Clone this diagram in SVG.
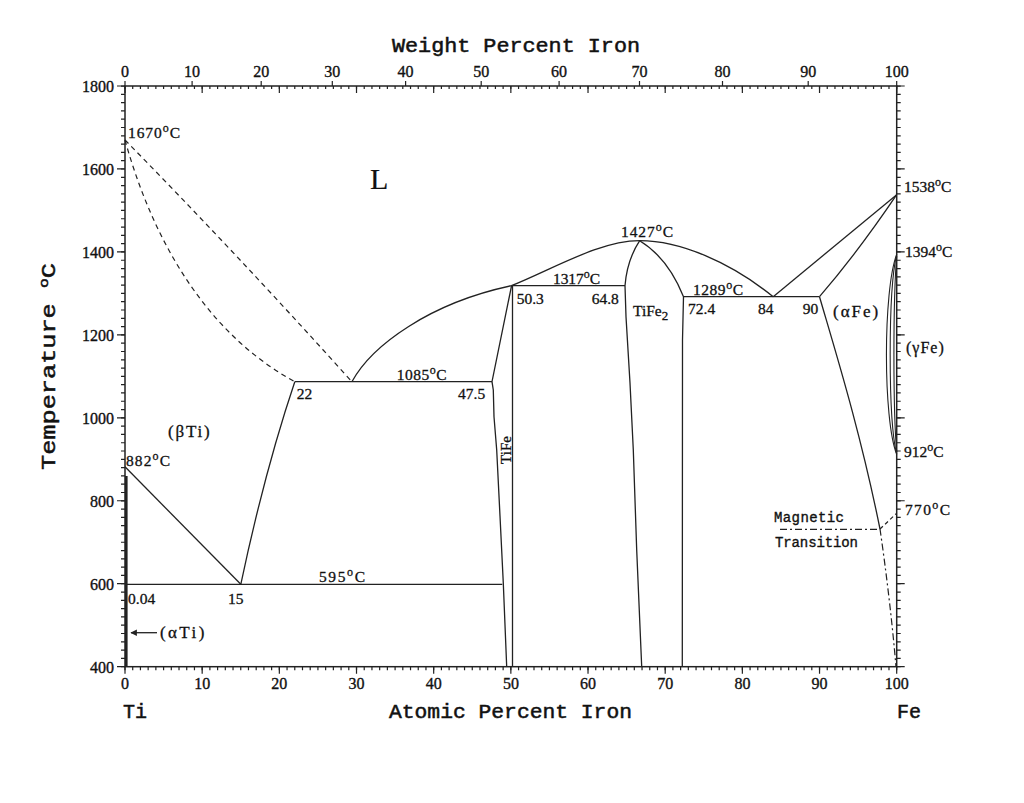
<svg xmlns="http://www.w3.org/2000/svg" width="1024" height="803" viewBox="0 0 1024 803">
<style>
.ln{fill:none;stroke:#222;stroke-width:1.3}
.ds{fill:none;stroke:#222;stroke-width:1.2;stroke-dasharray:5 4}
.dd{fill:none;stroke:#222;stroke-width:1.2;stroke-dasharray:7 3 2 3}
.tk{fill:none;stroke:#222;stroke-width:1.2}
.ax{font-family:"Liberation Serif",serif;font-size:16px;fill:#111;stroke:#111;stroke-width:0.35}
.lb{font-family:"Liberation Serif",serif;font-size:15.5px;fill:#111;stroke:#111;stroke-width:0.3}
.ti{font-family:"Liberation Mono",monospace;font-size:20px;fill:#111;stroke:#111;stroke-width:0.5}
.mg{font-family:"Liberation Mono",monospace;font-size:14px;fill:#111;stroke:#111;stroke-width:0.35}
</style>
<defs>
<marker id="ah" viewBox="0 0 10 10" refX="9" refY="5" markerWidth="9" markerHeight="5" orient="auto"><path d="M0,0 L10,5 L0,10 z" fill="#222"/></marker>
</defs>
<rect width="1024" height="803" fill="#fff"/>
<g id="frame">
<rect x="125" y="86" width="771.7" height="580.7" fill="none" stroke="#222" stroke-width="1.5"/>
<line x1="123" y1="667.3" x2="123" y2="85" stroke="#222" stroke-width="4" stroke-dasharray="1.2 7.0952"/>
<line x1="898.7" y1="667.3" x2="898.7" y2="85" stroke="#222" stroke-width="4" stroke-dasharray="1.2 7.0952"/>
<line x1="124.4" y1="668.5" x2="898" y2="668.5" stroke="#222" stroke-width="3.6" stroke-dasharray="1.2 6.517"/>
<line x1="124.4" y1="87.5" x2="898" y2="87.5" stroke="#222" stroke-width="3" stroke-dasharray="1.2 6.517"/>
<path class="tk" d="M117,86h8M117,168.95h8M117,251.9h8M117,334.86h8M117,417.8h8M117,500.76h8M117,583.7h8M117,666.7h8"/>
<path class="tk" d="M896.7,86h8M896.7,168.95h8M896.7,251.9h8M896.7,334.86h8M896.7,417.8h8M896.7,500.76h8M896.7,583.7h8M896.7,666.7h8"/>
<path class="tk" d="M125,666.7v7M202.17,666.7v7M279.34,666.7v7M356.51,666.7v7M433.68,666.7v7M510.85,666.7v7M588.02,666.7v7M665.19,666.7v7M742.36,666.7v7M819.53,666.7v7M896.7,666.7v7"/>
<path class="tk" d="M125,86v7M202.17,86v7M279.34,86v7M356.51,86v7M433.68,86v7M510.85,86v7M588.02,86v7M665.19,86v7M742.36,86v7M819.53,86v7M896.7,86v7"/>
<path class="tk" d="M125,86v-5M192.1,86v-5M261.2,86v-5M332.3,86v-5M405.6,86v-5M481.2,86v-5M559.1,86v-5M639.5,86v-5M722.5,86v-5M808.2,86v-5M896.7,86v-5"/>
</g>
<g id="axis-labels">
<g class="ax" text-anchor="end">
<text x="114" y="91.5">1800</text><text x="114" y="174.5">1600</text><text x="114" y="257.5">1400</text><text x="114" y="340.5">1200</text><text x="114" y="423.5">1000</text><text x="114" y="506.5">800</text><text x="114" y="589.5">600</text><text x="114" y="672.5">400</text>
</g>
<g class="ax" text-anchor="middle">
<text x="125" y="689">0</text><text x="202.2" y="689">10</text><text x="279.3" y="689">20</text><text x="356.5" y="689">30</text><text x="433.7" y="689">40</text><text x="510.9" y="689">50</text><text x="588" y="689">60</text><text x="665.2" y="689">70</text><text x="742.4" y="689">80</text><text x="819.5" y="689">90</text><text x="896.7" y="689">100</text>
<text x="125" y="77">0</text><text x="192.1" y="77">10</text><text x="261.2" y="77">20</text><text x="332.3" y="77">30</text><text x="405.6" y="77">40</text><text x="481.2" y="77">50</text><text x="559.1" y="77">60</text><text x="639.5" y="77">70</text><text x="722.5" y="77">80</text><text x="808.2" y="77">90</text><text x="896.7" y="77">100</text>
</g>
<text class="ti" x="392" y="52" textLength="248" lengthAdjust="spacingAndGlyphs">Weight Percent Iron</text>
<text class="ti" x="389" y="718" textLength="243" lengthAdjust="spacingAndGlyphs">Atomic Percent Iron</text>
<text class="ti" x="123" y="718">Ti</text>
<text class="ti" x="897" y="718">Fe</text>
<text class="ti" transform="translate(55,470) rotate(-90)" textLength="207" lengthAdjust="spacingAndGlyphs">Temperature <tspan dy="-7" font-size="13">o</tspan><tspan dy="7">C</tspan></text>
</g>
<g id="phase-boundaries">
<path class="ds" d="M125,140 Q235,252 351.9,381.7"/>
<path class="ds" d="M125,140 C150,230 200,330 294.8,381.7"/>
<path class="ln" d="M351.9,381.7 C372,345 430,303 511.5,285.7 C555,268 600,240.7 639.7,240.7 C680,240.7 730,262 773.2,296.7"/>
<path class="ln" d="M773.2,296.7 L896.7,194.7"/>
<path class="ln" d="M819.5,296.7 Q858,252 896.7,194.7"/>
<path class="ln" d="M294.8,381.7 H492"/>
<path class="ln" d="M511.5,286 L492,381.7 L493.3,390 L494,416.7 L496.7,450 L500,516 L503.3,583.3 L506.7,666.7"/>
<path class="ln" d="M512.5,286 V666.7"/>
<path class="ln" d="M511.5,285.7 H625"/>
<path class="ln" d="M639.7,240.7 Q627,260 625,285.7 L626,316.7 L630,383 L633.3,450 L636.7,550 L641.7,666.7"/>
<path class="ln" d="M639.7,240.7 Q668,258 683.5,296.7 L682.5,340 L682.3,666.7"/>
<path class="ln" d="M683.5,296.7 H819.5"/>
<path class="ln" d="M819.5,296.7 C835,350 860,430 880,529"/>
<path class="dd" d="M880,529 C886,570 892,620 896,666.7"/>
<path class="dd" d="M780,529.3 H880"/>
<path class="ds" d="M880,529 L896.7,513.2" style="stroke-dasharray:4 3"/>
<path class="ln" d="M125,584.3 H502.3"/>
<path class="ln" d="M125,466.8 L240.8,584.3"/>
<path class="ln" d="M294.8,381.7 Q265,470 240.8,584.3"/>
<path class="ln" d="M126.3,476 V666.7" style="stroke-width:2.6"/>
<path class="ln" d="M896.7,254.4 C883,290 883,420 896.7,454.3" style="stroke-width:1.1"/>
<path class="ln" d="M896.7,254.4 C888,290 888,420 896.7,454.3" style="stroke-width:1.1"/>
<path class="ln" d="M896.7,256 C893,300 893,410 896.7,452" style="stroke-width:1.1"/>
<path class="ln" d="M157,632.7 H131" marker-end="url(#ah)"/>
</g>
<g id="labels" class="lb">
<text x="128" y="138" textLength="52">1670<tspan dy="-6" font-size="12">o</tspan><tspan dy="6">C</tspan></text>
<text x="126" y="466" textLength="44">882<tspan dy="-6" font-size="12">o</tspan><tspan dy="6">C</tspan></text>
<text x="904" y="191.5">1538<tspan dy="-6" font-size="12">o</tspan><tspan dy="6">C</tspan></text>
<text x="905" y="257">1394<tspan dy="-6" font-size="12">o</tspan><tspan dy="6">C</tspan></text>
<text x="904" y="456.5">912<tspan dy="-6" font-size="12">o</tspan><tspan dy="6">C</tspan></text>
<text x="905" y="514.5" textLength="45">770<tspan dy="-6" font-size="12">o</tspan><tspan dy="6">C</tspan></text>
<text x="396.7" y="379.5" textLength="50">1085<tspan dy="-6" font-size="12">o</tspan><tspan dy="6">C</tspan></text>
<text x="553" y="283.5" textLength="47">1317<tspan dy="-6" font-size="12">o</tspan><tspan dy="6">C</tspan></text>
<text x="621" y="237" textLength="52">1427<tspan dy="-6" font-size="12">o</tspan><tspan dy="6">C</tspan></text>
<text x="693" y="294.5" textLength="50">1289<tspan dy="-6" font-size="12">o</tspan><tspan dy="6">C</tspan></text>
<text x="319" y="582" textLength="46">595<tspan dy="-6" font-size="12">o</tspan><tspan dy="6">C</tspan></text>
<text x="296.7" y="399">22</text>
<text x="458" y="399">47.5</text>
<text x="516.7" y="304">50.3</text>
<text x="591.7" y="304">64.8</text>
<text x="688" y="314">72.4</text>
<text x="758" y="314">84</text>
<text x="802.7" y="314">90</text>
<text x="128" y="604">0.04</text>
<text x="228" y="604">15</text>
<text x="833" y="316.5" font-size="17" letter-spacing="2">(αFe)</text>
<text x="906" y="353" font-size="16" letter-spacing="1">(γFe)</text>
<text x="168" y="437" font-size="17" letter-spacing="1.8">(βTi)</text>
<text x="160" y="638" font-size="17" letter-spacing="2.4">(αTi)</text>
<text x="633" y="316">TiFe<tspan dy="4" font-size="13">2</tspan></text>
<text transform="translate(511,450) rotate(-90)" text-anchor="middle" font-size="15">TiFe</text>
<text x="370" y="189" font-size="30" stroke-width="0.2">L</text>
<text class="mg" x="774" y="522" textLength="70">Magnetic</text>
<text class="mg" x="775" y="547" textLength="83">Transition</text>
</g>
</svg>
